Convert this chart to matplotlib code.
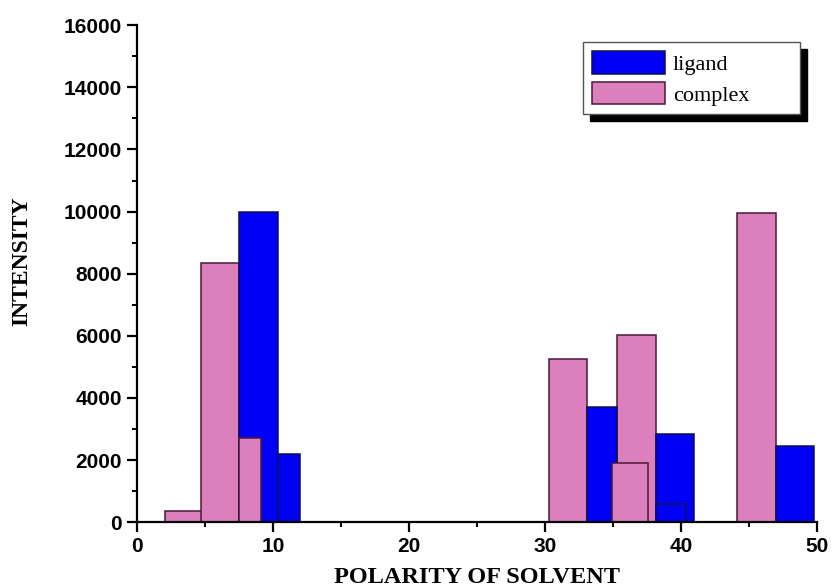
import matplotlib

matplotlib.use("Agg")
import matplotlib.pyplot as plt
from matplotlib.ticker import MultipleLocator

# bars: left edge, width, height
LIGAND_LEFT = [7.5, 10.4, 33.1, 38.2, 47.0]
LIGAND_WIDTH = [2.9, 1.6, 2.2, 2.8, 2.8]
LIGAND_HEIGHT = [10000, 2200, 3700, 2830, 2450]
COMPLEX_LEFT = [2.05, 4.7, 30.3, 35.3, 44.1]
COMPLEX_WIDTH = [2.75, 2.8, 2.8, 2.9, 2.9]
COMPLEX_HEIGHT = [350, 8350, 5250, 6020, 9950]
# second, front layer of smaller bars
COMPLEX2_LEFT = [7.5, 34.9]
COMPLEX2_WIDTH = [1.6, 2.7]
COMPLEX2_HEIGHT = [2720, 1920]
LIGAND2_LEFT = [38.2]
LIGAND2_WIDTH = [2.2]
LIGAND2_HEIGHT = [580]

BLUE, PINK = "#0000f8", "#dc80bd"
BLUE_EDGE, PINK_EDGE = "#10104a", "#4a1838"


def main():
    fig = plt.figure(figsize=(8.36, 5.88), dpi=100)
    ax = fig.add_axes([0.164, 0.112, 0.813, 0.845])

    kw = dict(align="edge", linewidth=1.1)
    ax.bar(COMPLEX_LEFT, COMPLEX_HEIGHT, COMPLEX_WIDTH, color=PINK,
           edgecolor=PINK_EDGE, label="complex", zorder=2, **kw)
    ax.bar(LIGAND_LEFT, LIGAND_HEIGHT, LIGAND_WIDTH, color=BLUE,
           edgecolor=BLUE_EDGE, label="ligand", zorder=2, **kw)
    ax.bar(COMPLEX2_LEFT, COMPLEX2_HEIGHT, COMPLEX2_WIDTH, color=PINK,
           edgecolor=PINK_EDGE, zorder=3, **kw)
    ax.bar(LIGAND2_LEFT, LIGAND2_HEIGHT, LIGAND2_WIDTH, color=BLUE,
           edgecolor=BLUE_EDGE, zorder=3, **kw)

    ax.set_xlim(0, 50)
    ax.set_ylim(0, 16000)
    ax.xaxis.set_major_locator(MultipleLocator(10))
    ax.xaxis.set_minor_locator(MultipleLocator(5))
    ax.yaxis.set_major_locator(MultipleLocator(2000))
    ax.yaxis.set_minor_locator(MultipleLocator(1000))
    for s in ("top", "right"):
        ax.spines[s].set_visible(False)
    for s in ("left", "bottom"):
        ax.spines[s].set_linewidth(1.6)
        ax.spines[s].set_zorder(4)
    ax.tick_params(which="major", direction="out", length=7.2, width=1.6, pad=3.6)
    ax.tick_params(which="minor", direction="out", length=3.6, width=1.4)
    for lab in ax.get_xticklabels() + ax.get_yticklabels():
        lab.set_fontfamily("Liberation Sans")
        lab.set_fontweight("bold")
        lab.set_fontsize(15)

    ax.set_xlabel("POLARITY OF SOLVENT", family="Liberation Serif",
                  weight="bold", fontsize=17.5, labelpad=8)
    ax.set_ylabel("INTENSITY", family="Liberation Serif", weight="bold",
                  fontsize=17)
    ax.yaxis.set_label_coords(-0.154, 0.525)

    h, l = ax.get_legend_handles_labels()
    leg = ax.legend(h[::-1], l[::-1], loc="upper left",
                    bbox_to_anchor=(0.656, 0.80, 0.319, 0.166), mode="expand",
                    borderaxespad=0, fancybox=False,
                    shadow={"ox": 5, "oy": -5, "color": "black", "alpha": 1},
                    prop={"family": "Liberation Serif", "size": 16},
                    handlelength=3.3, handleheight=1.2, handletextpad=0.35,
                    labelspacing=0.3, borderpad=0.4, framealpha=1)
    leg.get_frame().set_edgecolor("#555555")
    leg.get_frame().set_linewidth(1.0)

    fig.savefig("out.png", dpi=100)
    plt.close(fig)


if __name__ == "__main__":
    main()
